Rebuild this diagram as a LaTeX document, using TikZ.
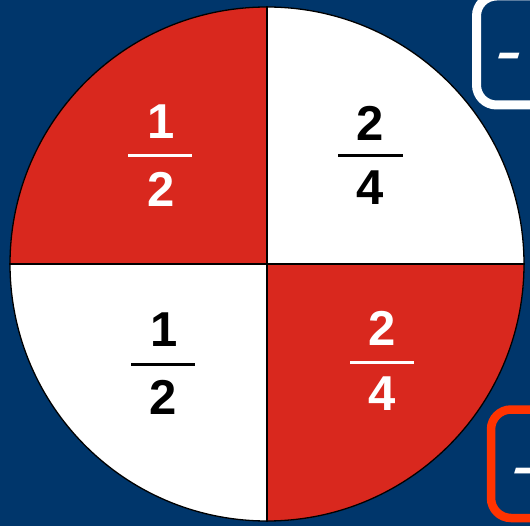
\documentclass[tikz,border=0pt]{standalone}
\usepackage{fontspec}
\setmainfont{Liberation Sans}
\definecolor{navy}{HTML}{00366B}
\definecolor{qred}{HTML}{D9281E}
\definecolor{boxred}{HTML}{FF3300}
\tikzset{
  digit/.style={inner sep=0pt, font=\fontsize{49}{49}\selectfont\bfseries},
  wdigit/.style={digit, text=white},
  bdigit/.style={digit, text=black},
  fracbar/.style={line width=3pt},
  card/.style={line width=9pt, rounded corners=20pt},
  dashtext/.style={inner sep=0pt, anchor=base, xscale=1.6, font=\fontsize{48}{48}\selectfont\bfseries\itshape, text=white}
}
\begin{document}
\begin{tikzpicture}[x=1pt,y=-1pt]
\useasboundingbox (0,0) rectangle (530,526);
\fill[navy] (0,0) rectangle (530,526);
% cards at the right
\begin{scope}
\clip (0,0) rectangle (530,526);
\draw[card, white] (476.5,-4) rectangle (600,105);
\node[dashtext] (dashA) at (509,69) {-};
\draw[card, boxred, line width=8.5pt] (491,409.5) rectangle (600,518);
\node[dashtext] (dashB) at (525,483) {-};
\end{scope}
% disk
\node[circle, minimum size=514pt, inner sep=0pt, fill=white] (disk) at (267,264) {};
\begin{scope}
\clip (267,264) circle (257);
\fill[qred] (0,0) rectangle (267,264);
\fill[qred] (267,264) rectangle (530,526);
\end{scope}
\node[circle, minimum size=514pt, inner sep=0pt, draw=black, line width=1.3pt] (rim) at (267,264) {};
\draw[line width=1.6pt] (rim.north) -- (rim.south);
\draw[line width=1.6pt] (rim.west) -- (rim.east);
% top-left 1/2
\node[wdigit] (n1) at (161,122) {1};
\node[wdigit] (d1) at (161,189.5) {2};
\draw[fracbar, white] (128,155.5) -- (192,155.5);
% top-right 2/4
\node[bdigit] (n2) at (370,123.5) {2};
\node[bdigit] (d2) at (370,188) {4};
\draw[fracbar, black] (338,156) -- (403,156);
% bottom-left 1/2
\node[bdigit] (n3) at (164,329.5) {1};
\node[bdigit] (d3) at (163,397.5) {2};
\draw[fracbar, black] (131,364.5) -- (195,364.5);
% bottom-right 2/4
\node[wdigit] (n4) at (382,328) {2};
\node[wdigit] (d4) at (382,394) {4};
\draw[fracbar, white] (350,362.5) -- (414,362.5);
\end{tikzpicture}
\end{document}
